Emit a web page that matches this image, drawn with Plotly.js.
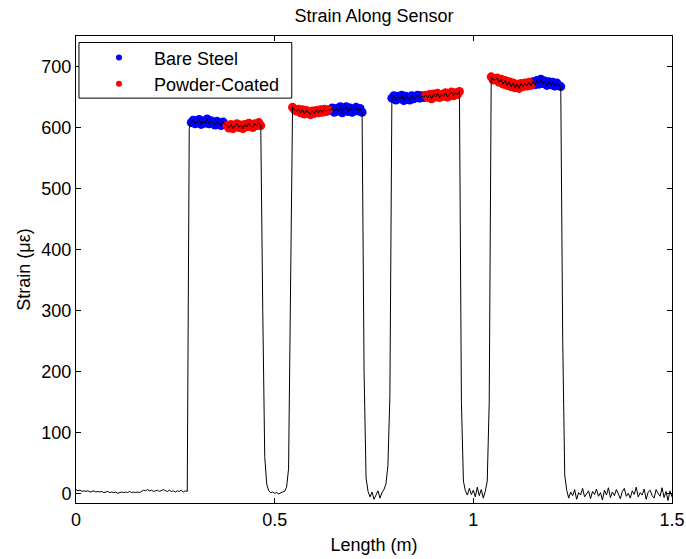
<!DOCTYPE html>
<html>
<head>
<meta charset="utf-8">
<script src="https://cdn.plot.ly/plotly-3.0.1.min.js"></script>
<style>html,body{margin:0;padding:0;background:#fff;}#chart{width:686px;height:559px;}</style>
</head>
<body>
<div id="chart"></div>
<script>
// Sample positions along the sensor (mm)
const lengthMm = [
0,5,10,15,20,25,30,35,40,45,50,55,60,65,70,75,80,85,90,95,
100,105,110,115,120,125,130,135,140,145,150,155,160,165,170,175,180,185,190,195,
200,205,210,215,220,225,230,235,240,245,250,255,260,265,270,275,280,285,290,295,
300,305,310,315,320,325,330,335,340,345,350,355,360,365,370,375,380,385,390,395,
400,405,410,415,420,425,430,435,440,445,450,455,460,465,470,475,480,485,490,495,
500,505,510,515,520,525,530,535,540,545,550,555,560,565,570,575,580,585,590,595,
600,605,610,615,620,625,630,635,640,645,650,655,660,665,670,675,680,685,690,695,
700,705,710,715,720,725,730,735,740,745,750,755,760,765,770,775,780,785,790,795,
800,805,810,815,820,825,830,835,840,845,850,855,860,865,870,875,880,885,890,895,
900,905,910,915,920,925,930,935,940,945,950,955,960,965,970,975,980,985,990,995,
1000,1005,1010,1015,1020,1025,1030,1035,1040,1045,1050,1055,1060,1065,1070,1075,1080,1085,1090,1095,
1100,1105,1110,1115,1120,1125,1130,1135,1140,1145,1150,1155,1160,1165,1170,1175,1180,1185,1190,1195,
1200,1205,1210,1215,1220,1225,1230,1235,1240,1245,1250,1255,1260,1265,1270,1275,1280,1285,1290,1295,
1300,1305,1310,1315,1320,1325,1330,1335,1340,1345,1350,1355,1360,1365,1370,1375,1380,1385,1390,1395,
1400,1405,1410,1415,1420,1425,1430,1435,1440,1445,1450,1455,1460,1465,1470,1475,1480,1485,1490,1495,
1500
];

// Strain readings (microstrain)
const strain = [
6,4,5,3,4,3,4,2,3,4, 2,3,2,3,1,2,3,1,2,1, 2,0,1,2,1,2,1,3,1,2, 1,2,1,3,5,4,6,4,5,3, 4,5,3,4,6,4,3,5,3,4, 2,4,3,5,2,4,3,
598,
608,612,606,610,613,605,610,607,614,606,611,608,604,610,606,603,609,605,
603,599,605,598,603,606,600,604,598,605,601,607,602,600,606,603,608,603,
300,60,15,4,1,2,0,1,-1,1,2,3,10,40,300,
633,629,627,630,624,629,622,628,624,621,627,623,628,624,629,625,630,626,629,
628,632,625,631,627,634,624,631,634,626,632,625,630,633,627,631,625,
200,25,3,-6,2,-10,-3,4,-8,1,6,15,45,160,
648,652,645,651,647,653,644,651,648,645,652,647,651,653,648,652,649,
653,649,654,647,655,650,656,649,654,651,657,650,655,658,652,657,654,659,
150,20,4,-3,8,-2,5,-6,10,-4,6,-8,3,20,150,
683,678,678,681,674,679,671,677,669,675,667,673,665,671,664,672,667,673,668,674,669,
675,670,677,671,679,672,676,669,675,670,674,668,673,669,667,
250,30,
5,-8,2,-4,6,-10,1,-3,8,-6, 0,4,-9,3,-2,7,-5,1,-11,5, -3,9,-7,2,-4,6,-1,-9,3,8, -5,0,-8,4,-2,10,-6,1,-3,7, -10,2,5,-4,-8,6,0,-5,9,-7, 3,-12,4,-6
];

// Sample index ranges (inclusive) belonging to each specimen type
const bareSteelRanges = [[58,75],[128,144],[159,175],[230,244]];
const powderCoatedRanges = [[76,93],[109,127],[176,193],[209,229]];

const seriesNames = ['Bare Steel','Powder-Coated'];
const seriesColors = ['#0000ff','#ff0000'];
const xTicks = [0,0.5,1,1.5];
const xTickText = ['0','0.5','1','1.5'];
const yTicks = [0,100,200,300,400,500,600,700];

const lengthM = lengthMm.map(v => v / 1000);

function pick(ranges){
  const xs = [], ys = [];
  ranges.forEach(([a,b]) => {
    for (let i = a; i <= b; i++) { xs.push(lengthM[i]); ys.push(strain[i]); }
    xs.push(null); ys.push(null);
  });
  return {xs, ys};
}
const bare = pick(bareSteelRanges);
const coated = pick(powderCoatedRanges);

const FONT = 'Liberation Sans, Arial, sans-serif';

const traces = [
  {x: bare.xs, y: bare.ys, type:'scatter', mode:'markers', showlegend:false,
   marker:{color:seriesColors[0], size:9}},
  {x: coated.xs, y: coated.ys, type:'scatter', mode:'markers', showlegend:false,
   marker:{color:seriesColors[1], size:9}},
  {x: lengthM, y: strain, type:'scatter', mode:'lines', showlegend:false,
   line:{color:'#000000', width:1}},
  // legend entries (small dot markers as in the reference legend)
  {x:[null], y:[null], type:'scatter', mode:'markers', name:seriesNames[0],
   marker:{color:seriesColors[0], size:6}},
  {x:[null], y:[null], type:'scatter', mode:'markers', name:seriesNames[1],
   marker:{color:seriesColors[1], size:6}}
];

const axisCommon = {
  showline:true, linecolor:'#000', linewidth:1, mirror:'ticks',
  ticks:'inside', ticklen:5, tickcolor:'#000', tickwidth:1,
  showgrid:false, zeroline:false,
  tickfont:{family:FONT, size:18, color:'#000'}
};

const layout = {
  width:686, height:559,
  margin:{l:76, r:14, t:36, b:56},
  paper_bgcolor:'#fff', plot_bgcolor:'#fff',
  font:{family:FONT, color:'#000'},
  title:{text:'Strain Along Sensor', font:{family:FONT, size:18, color:'#000'},
         x:0.5, xref:'paper', y:0.972, yref:'container', yanchor:'middle'},
  xaxis: Object.assign({}, axisCommon, {
    range:[0,1.5], tickvals:xTicks, ticktext:xTickText,
    title:{text:'Length (m)', font:{family:FONT, size:18, color:'#000'}, standoff:9}
  }),
  yaxis: Object.assign({}, axisCommon, {
    range:[-16,750], tickvals:yTicks,
    title:{text:'Strain (με)', font:{family:FONT, size:18, color:'#000'}, standoff:6}
  }),
  showlegend:true,
  legend:{x:0.0134, y:0.993, xanchor:'left', yanchor:'top',
          bgcolor:'rgba(0,0,0,0)', borderwidth:0, tracegroupgap:0,
          font:{family:FONT, size:18, color:'#000'}, itemwidth:60},
  shapes:[{type:'rect', xref:'paper', yref:'paper', x0:0.005, x1:0.362, y0:0.867, y1:0.986,
           line:{color:'#000', width:1}, fillcolor:'#fff', layer:'above'}]
};

Plotly.newPlot('chart', traces, layout, {displayModeBar:false, staticPlot:true});
</script>
</body>
</html>
